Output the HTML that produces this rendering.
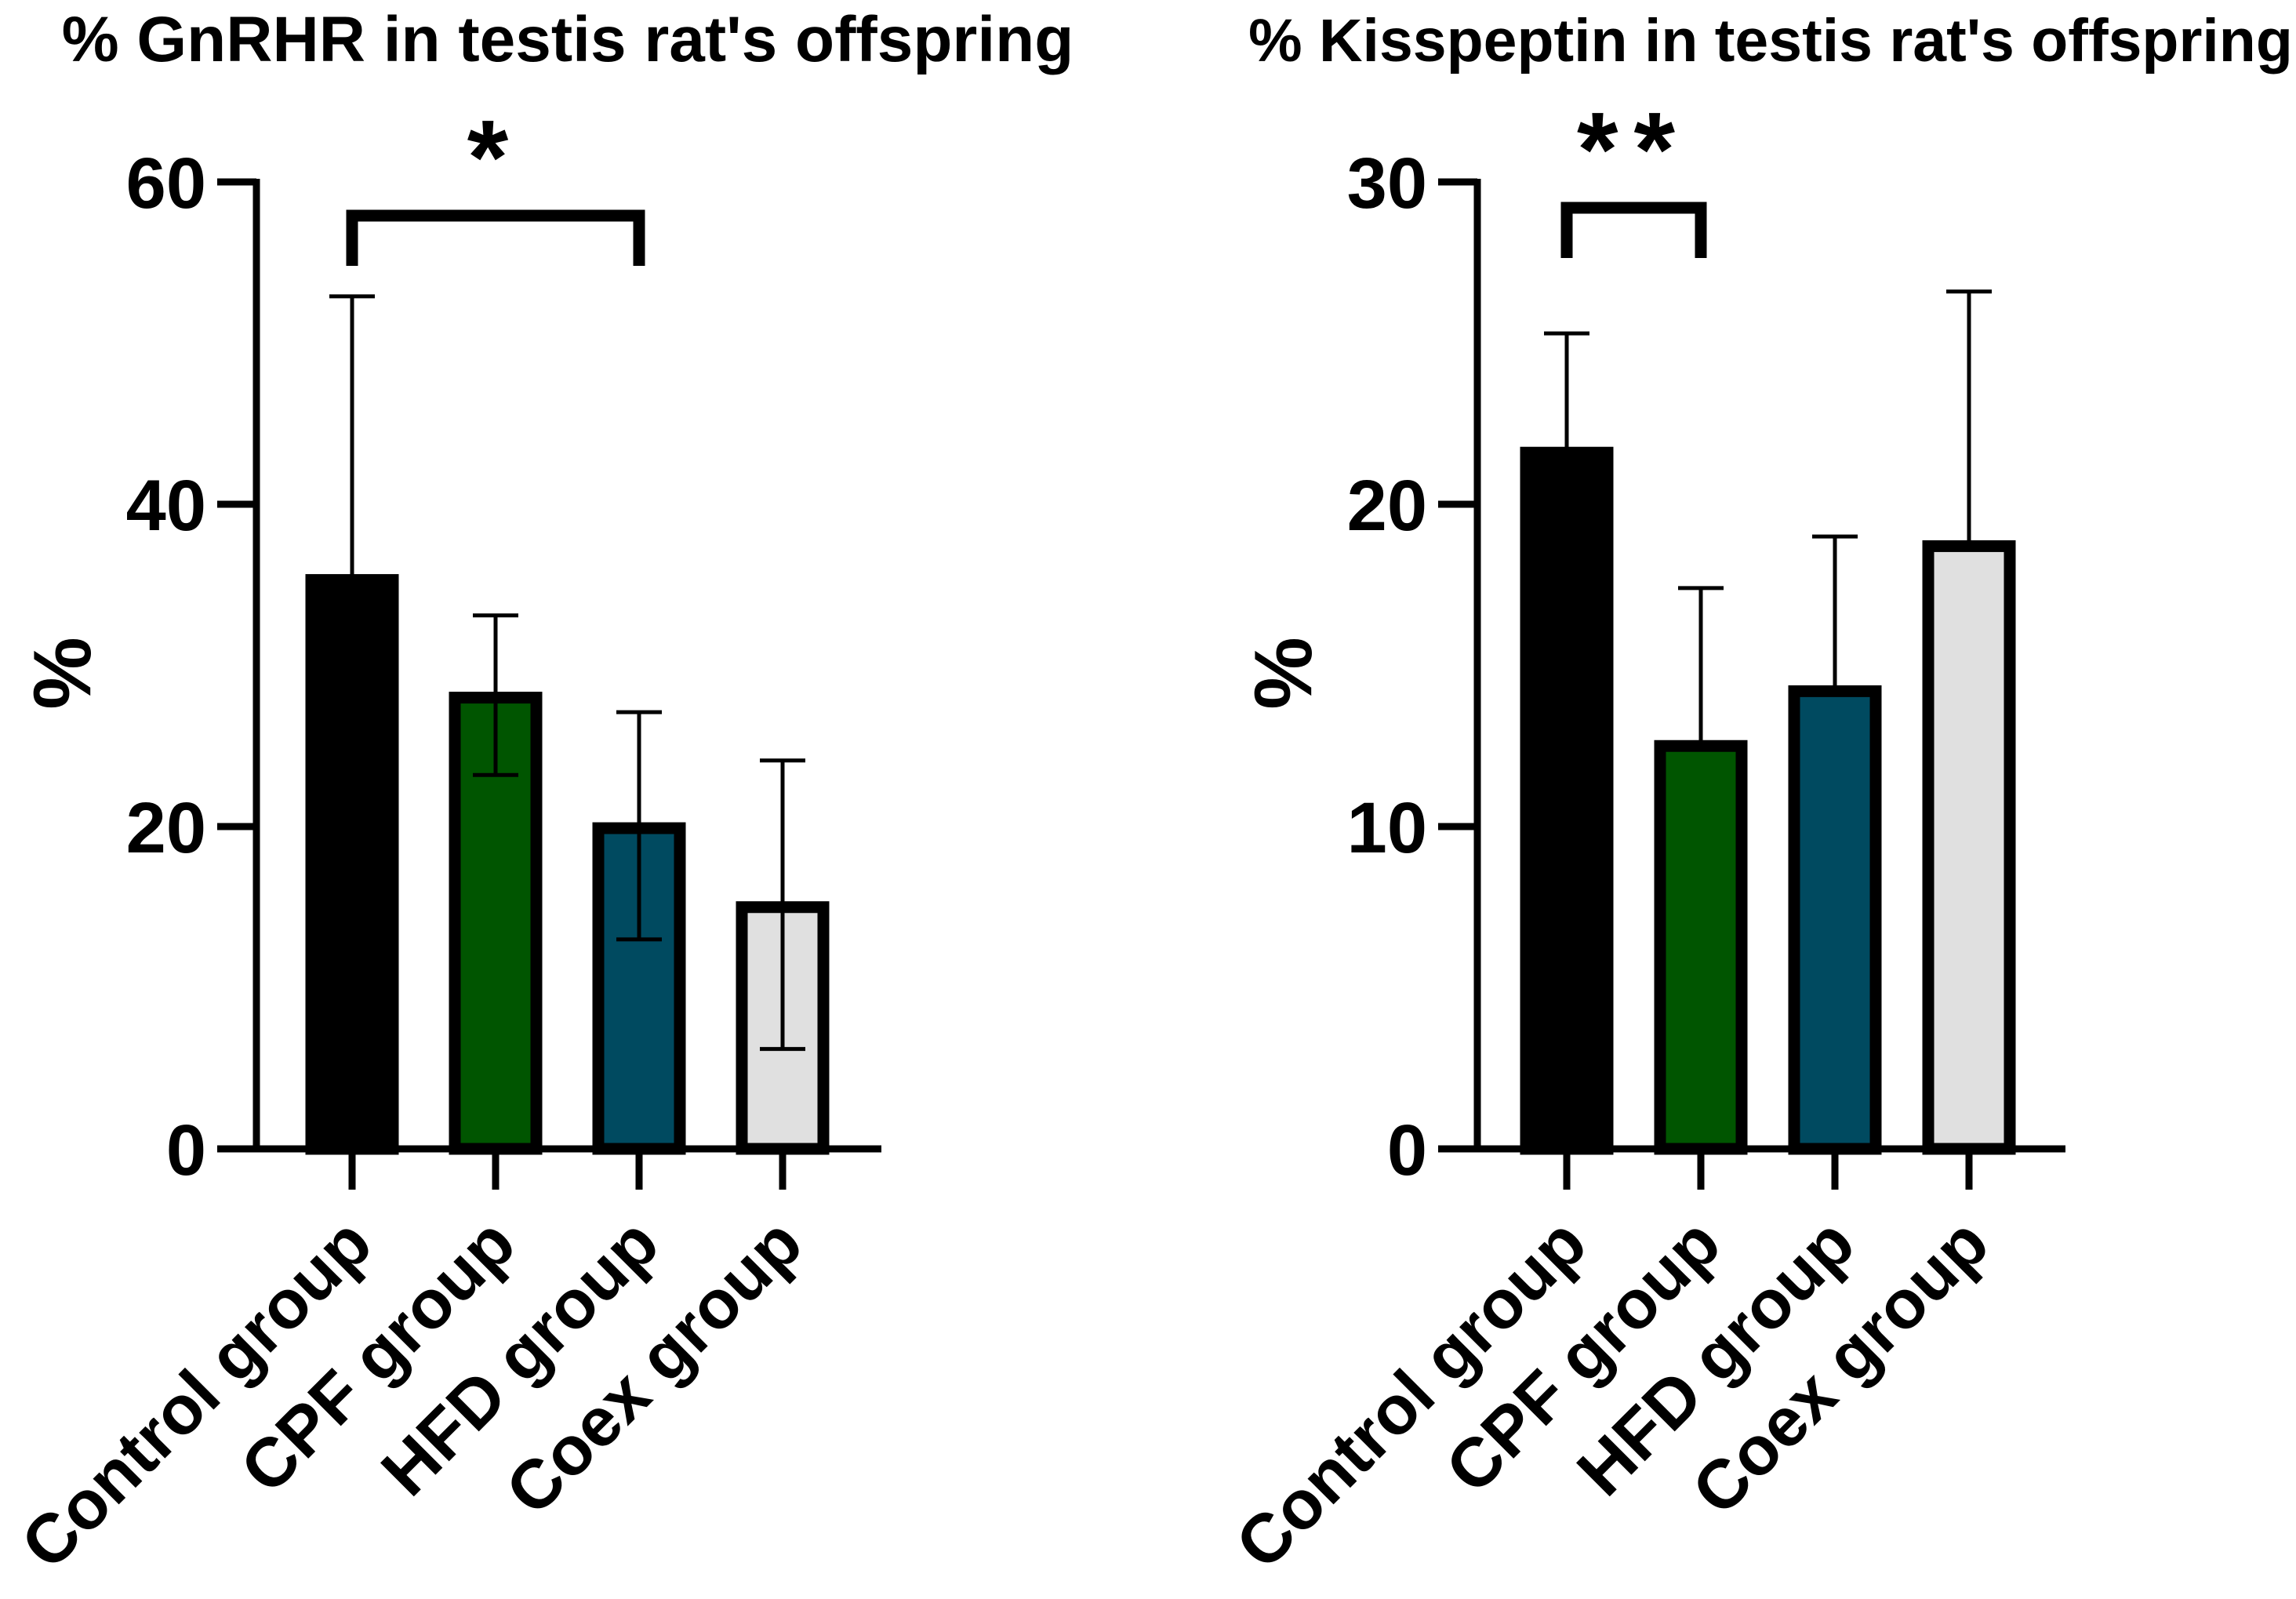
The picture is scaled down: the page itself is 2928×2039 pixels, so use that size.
<!DOCTYPE html>
<html><head><meta charset="utf-8"><style>
html,body{margin:0;padding:0;background:#fff;}
svg{display:block;font-family:"Liberation Sans",Arial,sans-serif;font-weight:bold;}
</style></head><body>
<svg id="chart" width="2928" height="2039" viewBox="0 0 2928 2039" xmlns="http://www.w3.org/2000/svg"></svg>
<script>
const categories = ["Control group","CPF group","HFD group","Coex group"];
const colors = ["#000000","#005500","#004a60","#e0e0e0"];
const gnrhMeans = [35.3, 28.0, 19.9, 15.0];
const gnrhErrUp = [52.9, 33.1, 27.1, 24.1];
const gnrhErrLo = [35.3, 23.2, 13.0, 6.2];
const gnrhTicks = [0, 20, 40, 60];
const kissMeans = [21.6, 12.5, 14.2, 18.7];
const kissErrUp = [25.3, 17.4, 19.0, 26.6];
const kissErrLo = [21.6, 12.5, 14.2, 18.7];
const kissTicks = [0, 10, 20, 30];

const NS = "http://www.w3.org/2000/svg";
const svg = document.getElementById("chart");
function mk(tag, attrs, parent){
  const e = document.createElementNS(NS, tag);
  for (const k in attrs) e.setAttribute(k, attrs[k]);
  (parent||svg).appendChild(e);
  return e;
}

function panel(cfg){
  const g = mk("g", {});
  
  
  const y0 = 1465, yTop = 232;
  const yS = v => y0 - (v / cfg.max) * (y0 - yTop);
  const xS = i => cfg.centers0 + i * cfg.step;
  const t = mk("text", {x: cfg.titleX, y: 78, "text-anchor":"middle", "font-size":cfg.titleSize}, g);
  t.textContent = cfg.title;
  
  
  const yl = mk("text", {x: 0, y: 0, "text-anchor":"middle", "font-size":104, transform:`translate(${cfg.axisX-212},${(y0+yTop)/2+10}) rotate(-90)`}, g);
  yl.textContent = "%";
  
  
  cfg.means.forEach((m,i)=>{
    const cx = xS(i), w = 104;
    const r = mk("rect", {x: cx-w/2, y: yS(m), width: w, height: y0 - yS(m), fill: colors[i], stroke:"#000", "stroke-width":15}, g);
    
    
    const eb = mk("g", {stroke:"#000","stroke-width":5}, g);
    
    
    mk("line", {x1:cx, x2:cx, y1:yS(cfg.up[i]), y2:yS(cfg.lo[i])}, eb);
    mk("line", {x1:cx-29, x2:cx+29, y1:yS(cfg.up[i]), y2:yS(cfg.up[i])}, eb);
    if (cfg.lo[i] < m) mk("line", {x1:cx-29, x2:cx+29, y1:yS(cfg.lo[i]), y2:yS(cfg.lo[i])}, eb);
    const tk = mk("line", {x1:cx, x2:cx, y1:y0, y2:y0+52, stroke:"#000","stroke-width":9}, g);
    
    
    const lab = mk("text", {x:0, y:0, "text-anchor":"end", "font-size":88, transform:`translate(${cx+30},${y0+126}) rotate(-45)`}, g);
    lab.textContent = categories[i];
    
    
  });
  const ax = mk("line", {x1:cfg.axisX, x2:cfg.axisX, y1:yTop-4, y2:y0+4, stroke:"#000","stroke-width":9}, g);
  
  
  const bx = mk("line", {x1:cfg.axisX-50, x2:cfg.xEnd, y1:y0, y2:y0, stroke:"#000","stroke-width":9}, g);
  
  
  cfg.ticks.forEach(v=>{
    const tl = mk("line", {x1:cfg.axisX-50, x2:cfg.axisX, y1:yS(v), y2:yS(v), stroke:"#000","stroke-width":9}, g);
    
    
    const tt = mk("text", {x:cfg.axisX-64, y:yS(v)+33, "text-anchor":"end", "font-size":92}, g);
    tt.textContent = v;
    
    
  });
  const a = xS(cfg.sig[0]), b = xS(cfg.sig[1]);
  const br = mk("path", {d:`M${a},${cfg.sigY+64} V${cfg.sigY} H${b} V${cfg.sigY+64}`, fill:"none", stroke:"#000","stroke-width":15}, g);
  
  
  const st = mk("text", {x:(a+b)/2, y:cfg.sigY-28, "text-anchor":"middle", "font-size":135, "letter-spacing":"20"}, g);
  st.textContent = cfg.stars;
  
  
}

panel({name:"gnrhr-panel", title:"% GnRHR in testis rat's offspring", titleX:724, titleSize:82, axisX:327, xEnd:1124,
  centers0:449, step:183, max:60, ticks:gnrhTicks, means:gnrhMeans, up:gnrhErrUp, lo:gnrhErrLo,
  sig:[0,2], sigY:275, stars:"*"});
panel({name:"kisspeptin-panel", title:"% Kisspeptin in testis rat's offspring", titleX:2258, titleSize:77, axisX:1884, xEnd:2634,
  centers0:1998, step:171, max:30, ticks:kissTicks, means:kissMeans, up:kissErrUp, lo:kissErrLo,
  sig:[0,1], sigY:265, stars:"**"});
</script>
</body></html>
